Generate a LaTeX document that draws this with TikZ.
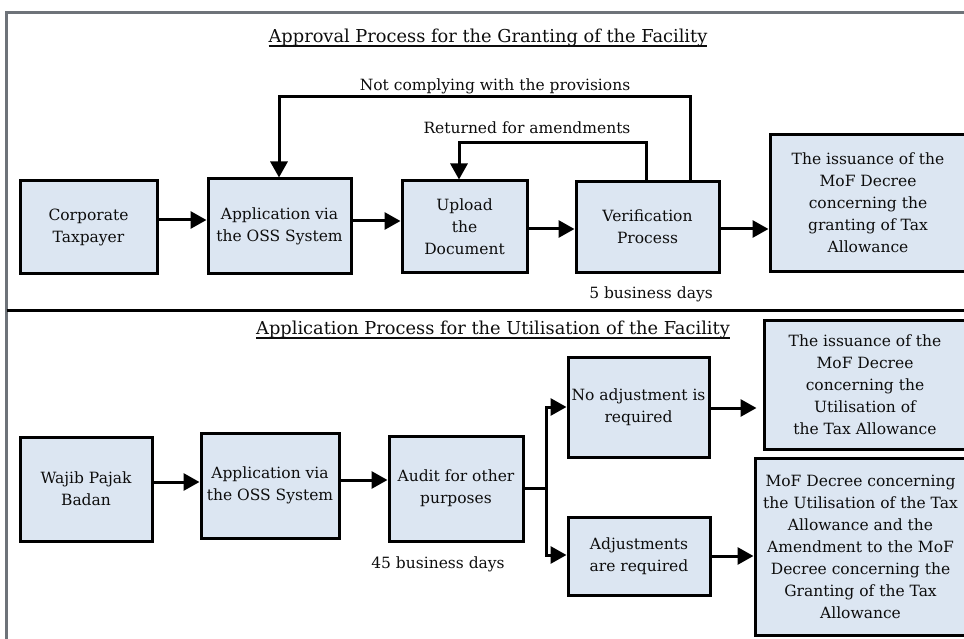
\documentclass[tikz,border=0pt]{standalone}
\usepackage{fontspec}
\setmainfont{DejaVu Serif}
\usetikzlibrary{arrows.meta}
\definecolor{boxfill}{HTML}{DCE6F2}
\definecolor{framegray}{HTML}{6E7379}
\definecolor{ink}{HTML}{0D0D0D}
% underlined heading text with a rule of chosen thickness
\newsavebox{\headbox}
\newcommand{\underlinedhead}[1]{\sbox{\headbox}{#1}\rlap{\raisebox{-4pt}{\rule{\wd\headbox}{1.3pt}}}\usebox{\headbox}}
\begin{document}
\begin{tikzpicture}[x=1pt,y=-1pt,
  every node/.style={text=ink, font=\fontsize{15.5}{22}\selectfont},
  stepbox/.style={draw=black, fill=boxfill, line width=3pt, align=center, inner sep=2pt},
  link/.style={line width=3pt, -{Triangle[length=16pt,width=17pt]}},
  plain/.style={line width=3pt},
  heading/.style={font=\fontsize{17.8}{22}\selectfont}
]
\useasboundingbox (0,0) rectangle (964,639);
\clip (0,0) rectangle (964,639);

% outer frame and section divider
\draw[framegray, line width=2.4pt] (968,12.5) -- (6.5,12.5) -- (6.5,645);
\draw[black, line width=2.2pt] (6.5,310.5) -- (968,310.5);

% ---------- approval process ----------
\node[heading] (title1) at (488,38) {\underlinedhead{Approval Process for the Granting of the Facility}};

\node[stepbox, minimum width=137pt, minimum height=92pt] (corp) at (88.5,227) {Corporate\\Taxpayer};
\node[stepbox, minimum width=143pt, minimum height=94pt] (app1) at (279.5,226) {Application via\\the OSS System};
\node[stepbox, minimum width=125pt, minimum height=91pt] (upload) at (464.5,226.5) {Upload\\the\\Document};
\node[stepbox, minimum width=143pt, minimum height=90pt] (verif) at (647.5,227) {Verification\\Process};
\node[stepbox, minimum width=196pt, minimum height=136pt] (grant) at (868,203) {The issuance of the\\MoF Decree\\concerning the\\granting of Tax\\Allowance};

\draw[link] (corp.east |- 0,220) -- (app1.west |- 0,220);
\draw[link] (app1.east |- 0,221) -- (upload.west |- 0,221);
\draw[link] (upload.east |- 0,229) -- (verif.west |- 0,229);
\draw[link] (verif.east |- 0,229) -- (grant.west |- 0,229);

% feedback loops
\draw[link] (verif.north -| 690,0) |- (279,97) -- (app1.north -| 279,0);
\draw[link] (verif.north -| 646,0) |- (459,143) -- (upload.north -| 459,0);
\node (reject) at (495,86) {Not complying with the provisions};
\node (returned) at (527,128) {Returned for amendments};
\node (days5) at (651,294) {5 business days};

% ---------- utilisation process ----------
\node[heading] (title2) at (493,330) {\underlinedhead{Application Process for the Utilisation of the Facility}};

\node[stepbox, minimum width=132pt, minimum height=104pt] (wajib) at (86,489) {Wajib Pajak\\Badan};
\node[stepbox, minimum width=138pt, minimum height=105pt] (app2) at (270,485.5) {Application via\\the OSS System};
\node[stepbox, minimum width=134pt, minimum height=105pt] (audit) at (456,488.5) {Audit for other\\purposes};
\node[stepbox, minimum width=141pt, minimum height=100pt] (noadj) at (638.5,407) {No adjustment is\\required};
\node[stepbox, minimum width=142pt, minimum height=78pt] (adj) at (639,556) {Adjustments\\are required};
\node[stepbox, minimum width=202pt, minimum height=129pt] (util) at (865,384.5) {The issuance of the\\MoF Decree\\concerning the\\Utilisation of\\the Tax Allowance};
\node[stepbox, minimum width=211pt, minimum height=177pt] (amend) at (860.5,546.5) {MoF Decree concerning\\the Utilisation of the Tax\\Allowance and the\\Amendment to the MoF\\Decree concerning the\\Granting of the Tax\\Allowance};

\draw[link] (wajib.east |- 0,482) -- (app2.west |- 0,482);
\draw[link] (app2.east |- 0,480) -- (audit.west |- 0,480);
\coordinate (split) at (546,488);
\draw[plain] (audit.east |- split) -- (split);
\draw[link] (split) |- (noadj.west |- 0,407);
\draw[link] (split) |- (adj.west |- 0,555);
\draw[link, shorten >=6pt] (noadj.east |- 0,408) -- (util.west |- 0,408);
\draw[link] (adj.east |- 0,556) -- (amend.west |- 0,556);
\node (days45) at (438,564) {45 business days};
\end{tikzpicture}
\end{document}
